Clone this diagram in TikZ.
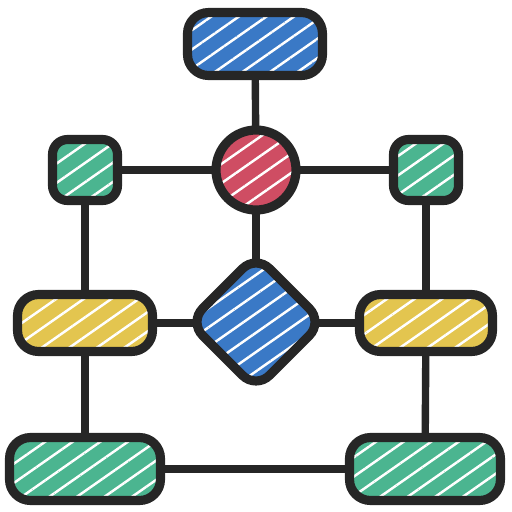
\documentclass[tikz,border=0pt]{standalone}
\usetikzlibrary{shapes.geometric,patterns.meta,backgrounds}

\definecolor{inkdark}{HTML}{262626}
\definecolor{boxblue}{HTML}{3A79C6}
\definecolor{boxred}{HTML}{CF4D63}
\definecolor{boxgreen}{HTML}{4BB590}
\definecolor{boxyellow}{HTML}{E3C54F}

\begin{document}
\begin{tikzpicture}
			[x=0.02cm,y=-0.02cm,
			every node/.style={draw=inkdark,line width=5.2pt,inner sep=0pt},
			hatch/.style={preaction={fill=#1},
				preaction={pattern={Lines[angle=35,distance=9pt,line width=1.4pt]},pattern color=white}},
			block/.style={rectangle,rounded corners=0.42cm,hatch=#1},
			small/.style={rectangle,rounded corners=0.3cm,hatch=#1,minimum width=1.3cm,minimum height=1.22cm},
			link/.style={draw=inkdark,line width=4.2pt}]
			\useasboundingbox (0,0) rectangle (512,512);
			% nodes
			\node[block=boxblue,minimum width=2.7cm,minimum height=1.26cm] (top) at (255,44) {};
			\node[circle,hatch=boxred,minimum size=1.6cm] (hub) at (256,170) {};
			\node[small=boxgreen] (sl) at (85,170) {};
			\node[small=boxgreen] (sr) at (426,170) {};
			\node[diamond,rounded corners=0.38cm,hatch=boxblue,minimum size=2.75cm] (choice) at (256,322) {};
			\node[block=boxyellow,minimum width=2.7cm,minimum height=1.14cm] (yl) at (85,323) {};
			\node[block=boxyellow,minimum width=2.66cm,minimum height=1.14cm] (yr) at (426,323) {};
			\node[block=boxgreen,minimum width=3.02cm,minimum height=1.26cm] (bl) at (85,469) {};
			\node[block=boxgreen,minimum width=3.02cm,minimum height=1.26cm] (br) at (425,469) {};
			% connectors
			\begin{scope}[on background layer]
				\draw[link] (top.center) -- (hub.center);
				\draw[link] (sl.center) -- (sr.center);
				\draw[link] (hub.center) -- (choice.center);
				\draw[link] (sl.center) -- (yl.center);
				\draw[link] (sr.center) -- (yr.center);
				\draw[link] (yl.center) -- (yr.center);
				\draw[link] (yl.center) -- (bl.center);
				\draw[link] (yr.center) -- (br.center);
				\draw[link] (bl.center) -- (br.center);
			\end{scope}
		\end{tikzpicture}
\end{document}
